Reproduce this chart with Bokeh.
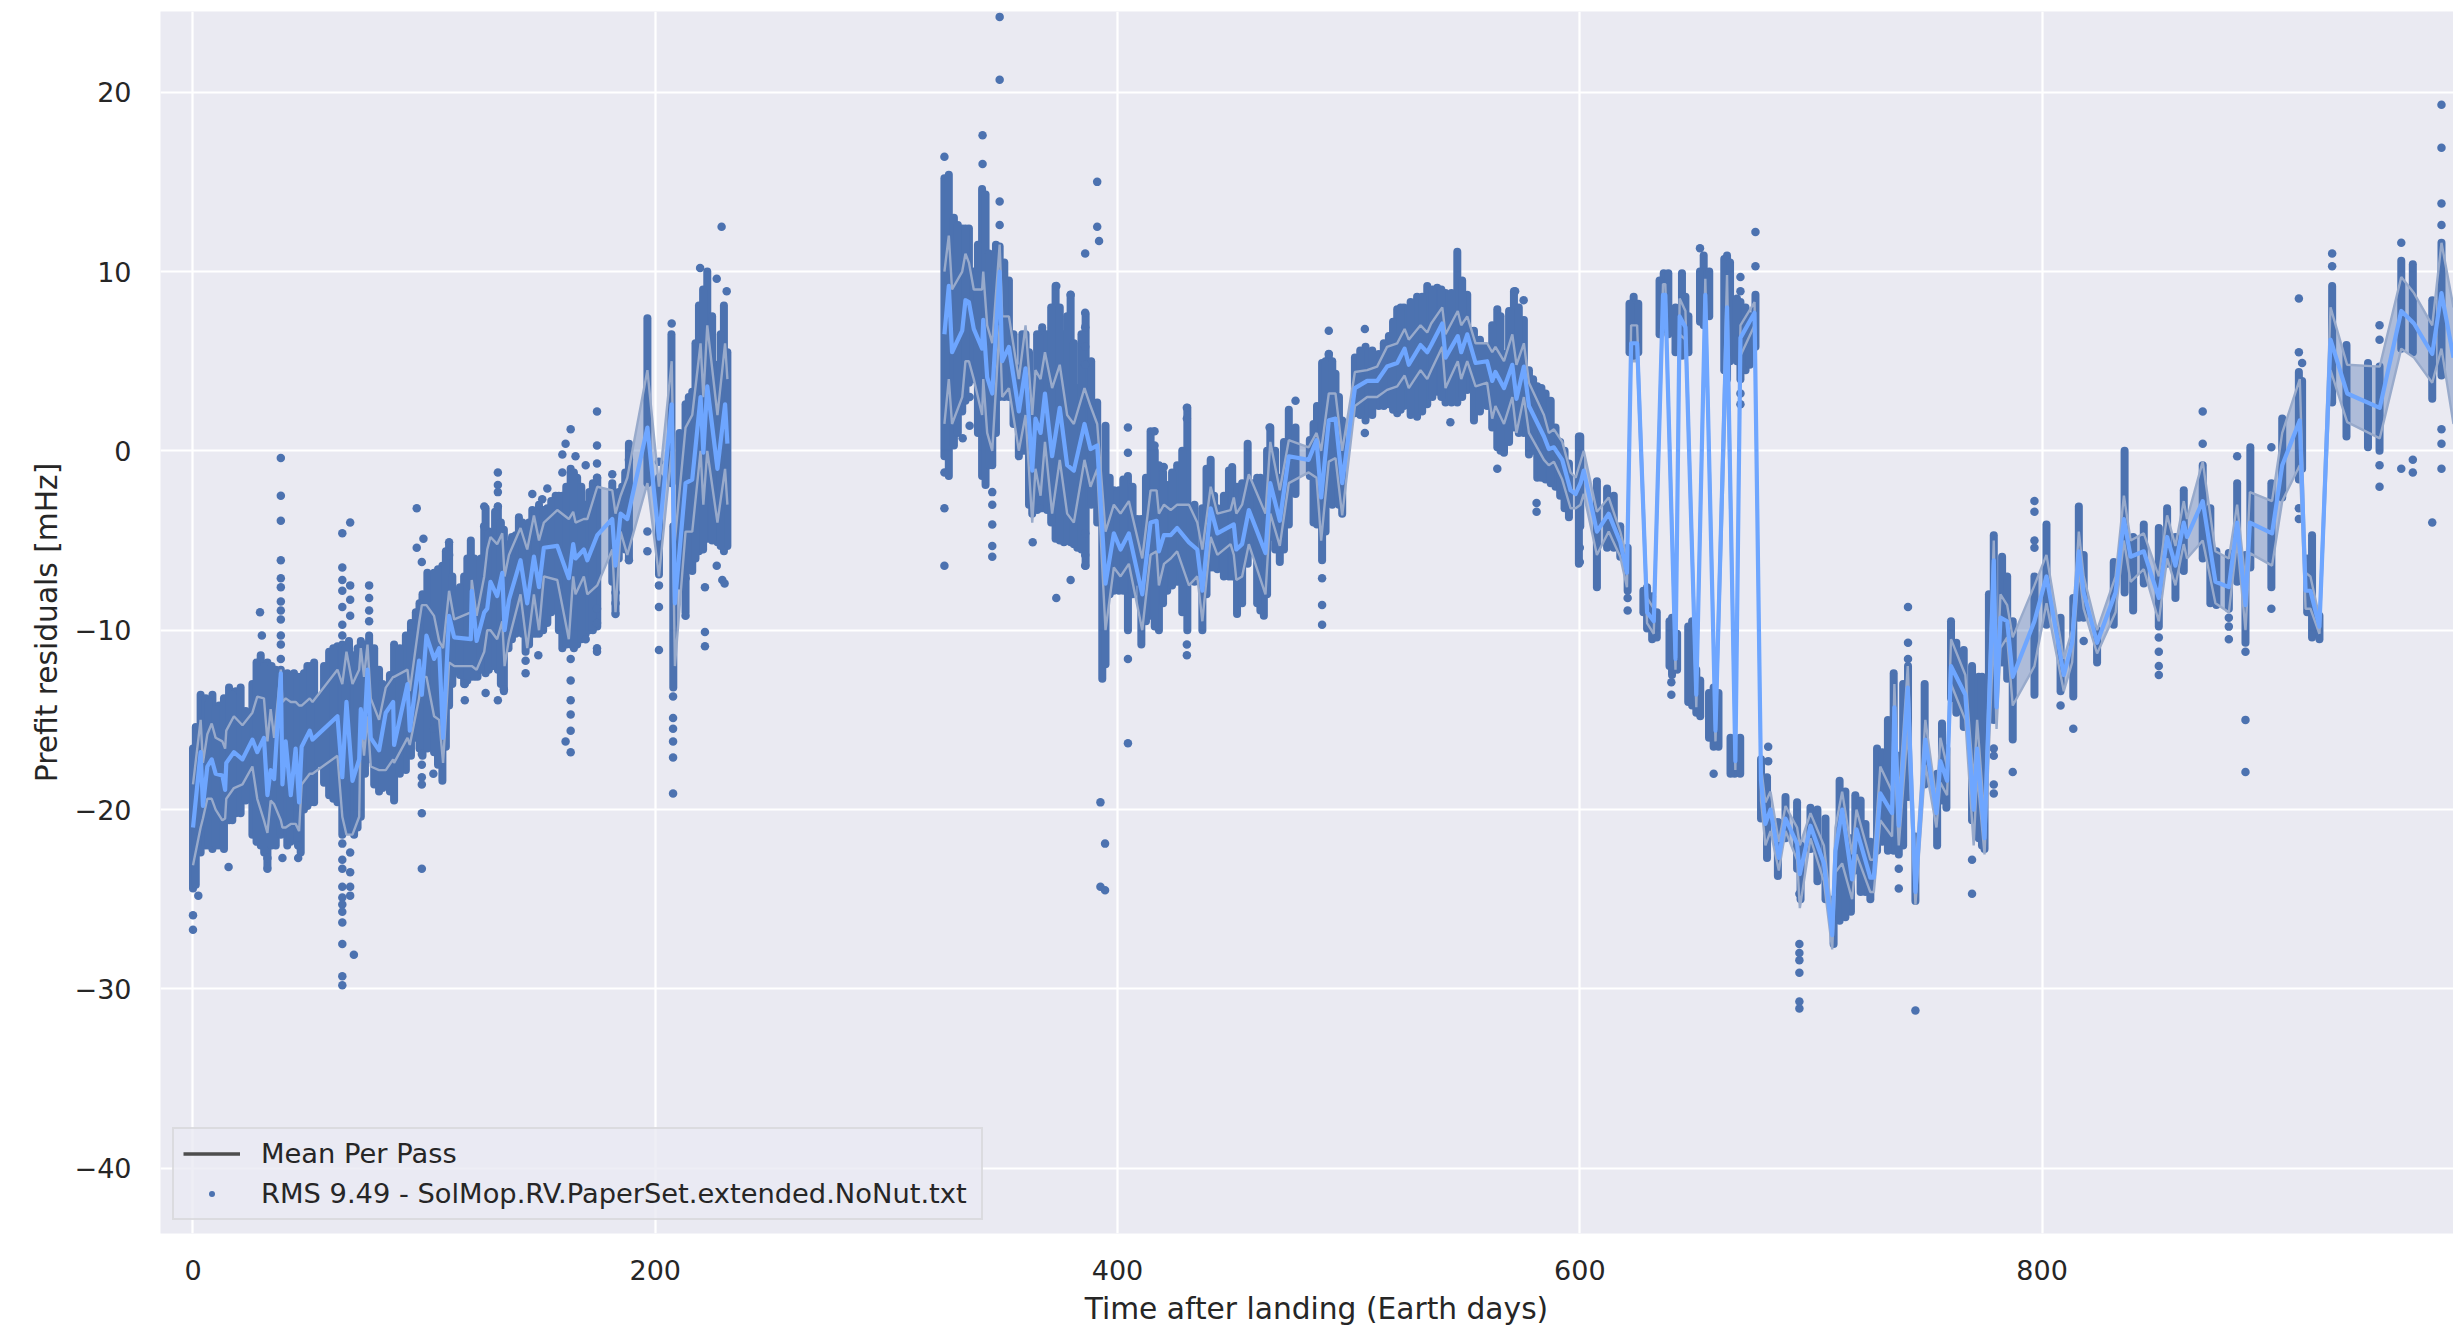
from bokeh.plotting import figure
from bokeh.models import Legend, LegendItem, FixedTicker
from bokeh.embed import file_html
from bokeh.resources import INLINE

# Each pass: time (days), lowest and highest residual of its dense run of dots (mHz)
pass_t = [0,1.2,3.3,5.5,8.4,11.3,13.4,15.6,18.5,20.6,25.7,29.3,32.2,35.8,38,40.8,43.7,46.6,49.5,52.4,54.5,58.9,62.5,64.6,67.5,69.7,72.6,76.2,80.5,83.4,87,92.1,96.4,99.3,101.4,104.3,107.9,110.8,113.7,117.3,120.2,123.1,126,
          126.6,129.5,131.9,134.5,139.6,141,143.9,146.8,149.7,153.3,156.9,159.8,163.4,166.2,169.9,174.9,181.4,182.8,185.7,188.6,196.6,201.6,207,207.8,213.1,216,218.9,222.5,226.9,229.7,231.2,
          325.1,327,329.2,332.8,335.7,337.8,341.4,342.9,345.8,349,353,357.3,360.2,363.1,367.4,373.2,376.8,379.7,382.6,386.2,391.2,393.4,394.8,398.4,400.6,404.5,408.5,410.3,414.3,417.9,421.5,425.8,430.2,436.7,440.3,443.2,448.2,
          449.6,451.7,453.9,456.3,461.8,463.3,466.1,470.2,474.1,477,483.2,486.3,488.5,491.4,494.3,497.2,502.7,507.3,513,517.4,521,523.9,529.6,534,538.3,541.9,547,551.3,554.2,559.9,564.3,567.2,571.5,575.8,578,581.6,585.2,589.5,595.3,599.6,
          600.2,607.4,611.8,614.7,617.5,620.7,623.3,629.1,631.3,636.3,639.9,642.1,644.2,645.7,648.6,650.4,653.6,657.9,663.7,667,669.5,671.7,676,678.4,681,685.7,689,694,695.5,699.8,706.3,
          709.8,712.4,717.3,719.2,723.6,725.7,728.6,730.8,735.8,738,742,745.2,749.2,754.6,756.7,758.6,760.6,762.9,766.1,769.7,772.6,775.1,779.1,782.7,784.9,787.3,796.7,801.9,808,813.5,815.9,818,823.8,831,835.7,
          839.4,844,850.5,854.1,857.7,861.3,869.5,872.8,875.4,880.8,884.4,888,890.1,899.2,903.9,911.1,912.5,914.7,916.8,920,925.5,931.7,941,946,955.4,960.4,968.8,972.8]
pass_lo = [-24.4,-24.2,-22.4,-22,-22.2,-22,-22.2,-20.6,-20.2,-20.2,-21.4,-22,-23.2,-22,-21.4,-22,-21.4,-22.4,-19.8,-19.6,-17.4,-19.2,-19.6,-21.4,-21.2,-21.4,-20.4,-17.2,-19,-18.6,-19.5,-17.8,-16,-17,-16.6,-16.8,-18.4,-14.2,-12.2,-13,-12.6,-12.6,-11.8,
           -12.4,-12,-12.2,-13.4,-10.2,-9.4,-11.2,-10.2,-10.2,-9.6,-8.3,-11,-10.8,-10.8,-10.2,-9.8,-7.3,-9,-5.3,-6,-1.8,-6.9,-1.8,-13.2,-9,-6.7,-5.6,-4.9,-5.1,-5.6,-5.3,
           -0.3,-1.4,0.3,2.2,3.8,4,-1.4,-1.9,-0.8,3,3,-0.3,0,-3.5,-3.2,-4.9,-5.1,-5.1,-5.4,-6.4,-4,-12.7,-11.9,-7.8,-7.8,-10,-7.3,-10.8,-9.2,-10,-7.8,-7.3,-10,-10,-6.5,-6.6,-7,
           -7,-9.1,-8.5,-6.3,-8.9,-9.2,-4.8,-6.2,-4.1,-2.4,-1.4,-4.1,-6.1,-2.9,-2,-3.5,2.1,1.7,2.5,2.6,2.1,2.5,1.9,2.6,3.3,2.7,2.7,3.4,1.7,2.5,0.2,-0.1,1.3,1,-0.2,-1.5,-1.6,-2,-3.7,-6.3,
           -4.2,-7.6,-5.4,-5.4,-5.9,-7.8,5.3,-9.9,-10.5,6.8,-12.5,-12.2,5.3,6.3,-14.2,-14.6,7,-16.5,4,-18,4,4.5,5.8,-20.5,-22.7,-23.7,-21.6,-23.3,-25,-22.2,-25,
           -27.5,-26.2,-25.7,-23.4,-24.6,-25,-22.3,-21.8,-22.3,-22.5,-19.3,-25.1,-18.6,-22,-19.5,-19.9,-13.8,-14.6,-15.4,-20.6,-21.6,-22.2,-15,-11.8,-12.7,-16.1,-13.6,-9.7,-13.4,-13.7,-9.3,-9.3,-11.8,-9.7,-7.9,
           -8.9,-7.4,-9.8,-6.3,-8.2,-6.7,-6,-8.5,-8.6,-8.8,-7.3,-10.7,-6.5,-7.6,-2.6,-1.6,-1,-9,-10.4,-10.5,2.7,0.8,0.2,0,5.7,5.5,2.9,4.2]
pass_hi = [-16.6,-15.4,-13.6,-13.8,-13.6,-14.2,-13.8,-13.2,-13.4,-13.2,-13,-11.4,-11.8,-12.2,-12.2,-12.4,-12.4,-12.6,-12,-11.8,-13.8,-11.2,-10.9,-10.8,-10.6,-11.4,-10.6,-10.3,-12.2,-13.4,-10.8,-10.3,-9,-8,-6.8,-6.8,-6.4,-5.2,-8.2,-7,-5,-7.2,-4.2,
           -3.2,-4.9,-3.1,-4.4,-4.7,-3.7,-4.4,-3.3,-3,-3.2,-2.5,-2.5,-1,-1.5,-3,-1.5,-1.8,-4.5,-2,0.4,7.4,-1.5,6.5,-4.2,2.6,3.3,8.1,10,4.8,8.1,5.5,
           15.2,15.4,13,12.4,12.4,10,14.6,14.3,10.8,11.4,9.5,4.6,6.5,4,6.9,9.2,6.5,8.7,3.5,7.6,2.7,-1.9,1.4,-2.2,-2.2,-1.4,-3.8,-3.8,1.1,-0.8,-1.9,-0.8,2.4,-3.2,-0.5,-3.2,-1.1,
           -0.9,-2,-1.8,0.4,-1.5,-2.6,1.3,-1.5,2.3,1.3,0.6,2.5,4.9,5.4,4.3,1.7,5.2,5.8,5.4,6.4,7.9,8,8.6,9.2,9.1,8.8,11.1,8.7,6.7,5.8,7.9,5.4,8.9,7.3,4.5,3.6,3.2,1.3,-0.7,0.8,
           0.8,-1.7,-2.1,-2.5,-4.2,-5.4,8.6,-7.6,-8.1,9.9,-9.3,-10.2,9.9,8.6,-9.5,-12.2,10.9,-13.2,10.9,-16.2,8.3,8,8.7,-17.2,-18.2,-20.7,-19.3,-19.6,-22,-19.9,-20.5,
           -25,-18.4,-21.6,-19.2,-20.8,-21.8,-16.6,-16.8,-12.4,-17,-12,-21.5,-13,-18,-15.2,-16.6,-9.5,-10.7,-11.1,-12,-12.6,-12.7,-4.7,-5.9,-7,-9.5,-7,-4.1,-9.3,-8.2,-3.1,-5.8,-10,-6.2,0,
           -4.8,-4.1,-4.3,-3.2,-4.8,-2.2,-0.8,-3.2,-5.6,-5.7,-1.8,-5.8,0.2,-1.8,1.8,4.4,3.9,-6,-4.7,-9.2,9.2,5.9,4.9,4.7,10.6,10.4,8.4,11.6]

# Further passes in the dense stretches and the day 620-680 clusters
more_t = [6.9,9.9,17,22.8,27.5,30.8,34,42.2,45.2,48,51,56.7,60.7,66,71.2,74.4,78.4,82,85.2,89.5,94.3,98,106,109.4,112.2,115.5,118.7,121.7,124.6,
          128,130.7,133.2,136.5,138,142.5,145.4,148.2,151.5,155,158.3,161.5,164.8,168,171.5,173,184.2,187,210.5,214.5,217.4,220.7,224.6,228.3,
          330.9,334.2,339.6,344.4,347.4,351,355,358.8,361.7,365.2,369.5,371.3,375,378.2,381.1,384.4,388.6,396.6,402.5,406.5,412.3,416.1,419.7,423.6,428,433.3,438.5,441.8,446,
          458.9,460.4,464.7,468.2,472,484.8,490,492.9,495.8,505,510.2,515.2,519.2,522.5,526.8,531.8,536.2,540.1,544.5,549.1,556.8,562.1,565.7,569.4,573.6,579.8,583.4,587.4,591.5,593.4,
          621.5,625.3,627.5,633.3,634.5,638.3,638.8,641.4,646.9,647,652,652.1,655.9,656,660,662.5,665,665.2,668,669.4,673.5,
          702.8,714.9,721.5,733.3,739.9,774,777]
more_lo = [-22,-22,-20.6,-19.5,-21.8,-22.4,-22,-21.8,-21.8,-20,-19.6,-18.5,-19.4,-21,-21,-18,-18.6,-18.8,-19,-18,-17,-16.6,-17.5,-16.5,-13,-12.5,-12.8,-12.6,-12.2,
           -12.2,-12,-13,-11,-10.5,-10.2,-10.8,-10.2,-10,-9,-10,-10.8,-11,-10.5,-10,-10,-6,-5.5,-7.5,-6.6,-6,-5.5,-5,-5.3,
           1,2.8,1,-0.8,1,3,1.5,0,-3,-3.3,-3.3,-4,-5,-5,-5.2,-5.5,-3,-8,-7.8,-8,-9.5,-9.8,-8.5,-7.5,-9,-7.3,-8,-6.5,-7,
           -5.7,-8.5,-8,-5.5,-5.5,-4,-4.5,-3,-3,2,2,2.5,2.3,2.3,2,2.2,3,3,2.7,3,2.2,1.3,0,0.5,1,0,-1.5,-1.8,-2.5,-3.2,
           5.5,5.5,-9,-10.4,6.5,6.5,-12,5.5,-14,5.5,7.2,-14.8,-16,7.5,-16.5,4.5,5,-18,5,-18,4.8,
           -24,-26,-24.6,-22.3,-22,-22,-15]
more_hi = [-14,-14.4,-13.6,-14.5,-11.8,-12,-12,-12.6,-12.6,-12.4,-12,-12,-11,-11,-11,-10.8,-11,-13,-12.5,-11,-9.6,-8.5,-6.6,-5.6,-7,-7.6,-6,-6,-6,
           -4.5,-3.4,-4,-5.2,-4.8,-4,-4,-3.4,-3.3,-2.8,-2.5,-2,-1.2,-2,-2.3,-1.8,-2.3,-1.2,1,3,6,9,7.5,6.5,
           12.6,12.4,11.5,11,11.5,10.5,6.5,6.5,5.5,6.5,6.5,8,8,7.5,6,6.5,5,-1.5,-1.6,-2,-1.5,0,-1.2,-1.2,0,-3,-1,-2.5,-2.5,
           -1.8,-1.5,0,0,0.5,1.5,5,5,3,5.6,5.6,6,7.2,8,8.3,8.6,9,9,8.8,9.5,6.2,7,7.5,7.8,8,4,3.5,2.8,0.5,0,
           8.2,8.2,-7.8,-9,9.5,9.9,-9.5,8,-9.8,7.5,10,-12.8,-13.5,10,-13.5,10.7,10.5,-16,8.5,-16,7.5,
           -20,-19,-19.5,-15,-13,-12.6,-8]

# Isolated dots read one by one
dot_t = [38,38,38,38,38,38,38,38,38,38,38,38,29,29.8,0,0,2.3,15.4,64.6,64.6,64.6,64.6,64.6,64.6,64.6,64.6,64.6,64.6,64.6,64.6,64.6,64.6,64.6,64.6,64.6,64.6,68,68,68,68,68,68,68,68,69.6,76.2,76.2,76.2,76.2,32.2,32.2,38.7,45.5,45.5,96.8,96.8,99.7,99,99,99,99,99,99,99,104,104,110.8,110.8,117.6,117.6,126,126,
         126.6,131.9,131.9,131.9,131.9,131.9,134.5,143.9,143.9,149.4,146.8,151.1,153.3,163.4,161.2,159.8,165.5,159.8,163.4,163.4,163.4,163.4,163.4,163.4,161.2,174.8,174.8,174.8,174.8,174.8,174.8,174.8,174.8,169.9,169.9,181.4,182.8,182.8,182.8,188.6,188.6,196.6,196.6,201.6,201.6,201.6,201.6,207.1,207.7,207.7,207.7,207.7,207.7,207.7,213.1,213.1,221.5,221.5,221.5,226.6,229,230,228.7,219.4,226.6,230.9,
         325.1,325.1,325.1,325.1,341.6,341.6,345.8,345.8,345.8,345.8,345.8,349,349,349,349,391.2,391.2,392,386,404.5,404.5,404.5,404.5,392.6,394.6,392.6,394.6,386,386,386,386,386,386,386,373.5,373.5,379.7,379.7,363.3,366.3,430,430,430,430,416,416,420,336,336,333,
         491.4,491.4,507,507,488.5,488.5,488.5,477,465.8,544,564.3,581.3,581.3,572,575.7,
         600,600,620.7,620.7,639.6,639.6,657.9,652,676,676,669.5,669.5,669.5,669.5,681.5,681.5,695,695,695,695,695,695,695,
         742,742,742,745.2,738,738,769.7,769.7,779.1,779.1,779.1,779.1,787.3,796.7,796.7,796.7,796.7,808,813.5,818,
         850.5,850.5,850.5,850.5,869.5,869.5,884.4,888,888,888,880.8,880.8,880.8,899.2,899.2,911.1,911.1,911.1,911.1,912.5,925.5,925.5,946,946,946,946,955.4,955.4,960.4,960.4,968.8,972.8,972.8,972.8,972.8,972.8,972.8,972.8]
dot_y = [-0.4,-2.5,-3.9,-6.1,-7.1,-7.6,-8.4,-8.9,-9.4,-10.3,-10.8,-11.6,-9,-10.3,-25.9,-26.7,-24.8,-23.2,-4.6,-6.5,-7.2,-7.8,-8.7,-9.7,-10.3,-22.8,-23.3,-24.3,-24.9,-25.3,-25.7,-26.3,-27.5,-29.3,-29.8,-21.9,-4,-7.5,-8.3,-9.2,-22.4,-23.5,-24.3,-24.8,-28.1,-7.5,-8.2,-8.9,-9.5,-22.7,-23.3,-22.7,-22,-22.7,-3.2,-5.4,-4.9,-6.2,-17.5,-18.2,-18.6,-20.2,-23.3,-16.9,-18,-15.5,-5.1,-5.8,-13,-13.9,-3.1,-4.2,
         -13.5,-1.2,-1.9,-2.3,-3.1,-13.9,-13.3,-11.7,-12.4,-11.4,-2.4,-2.7,-2.1,1.2,0.4,-0.2,-0.3,-1.2,-11.6,-12.8,-13.9,-14.7,-15.6,-16.8,-16.2,2.2,0.3,-0.7,-1.5,-11,-11.2,-8.8,-9.6,-0.8,-10.5,-1.3,-7.9,-8.5,-9.1,-0.5,-6.1,-4.5,-5.6,-0.6,-7.5,-8.7,-11.1,7.1,-13.7,-14.9,-15.5,-16.2,-17.1,-19.1,-7.1,-9.2,-7.6,-10.1,-10.9,-6.4,-7.2,-7.4,12.5,10.2,9.6,8.9,
         16.4,-1.2,-3.2,-6.4,17.6,16,-2.3,-3,-4.1,-5.3,-5.9,24.2,20.7,13.9,12.6,15,12.5,11.7,11,1.3,-0.1,-11.6,-16.3,-19.6,-21.9,-24.3,-24.5,7.7,6.9,5.8,4.8,-4.6,-5.8,-6.4,9.2,-8.2,8.7,-7.2,-5.1,-3.2,2.4,1.8,-10.8,-11.4,1.1,0.3,-0.9,1.4,3,0.7,
         6.7,5.4,6.8,1,-7.1,-8.6,-9.7,2.8,1.3,1.6,-1,-2.9,-3.4,8.9,8.4,
         -5.4,-6.2,-8.2,-8.9,-12.9,-13.6,-18,11.3,12.2,10.3,9.7,8.9,3.2,2.6,-16.5,-17.3,-24.7,-27.5,-28,-28.4,-29.1,-30.7,-31.1,
         -8.7,-10.7,-11.6,-31.2,-23.3,-24.4,-22.8,-24.7,-16.6,-18.6,-19.1,-17,-17.9,-2.8,-3.4,-5,-5.4,-14.2,-15.5,-10.6,
         -10.4,-11.2,-12,-12.5,2.2,0.4,-0.3,-11.2,-15,-17.9,-9.3,-9.8,-10.5,0.2,-8.8,8.5,5.5,-3.2,-3.8,4.9,11,10.3,7,6.2,-0.8,-2,11.6,-1,-0.5,-1.2,-4,19.3,16.9,13.8,12.6,1.2,0.4,-1]

# Mean per pass with the upper and lower edge of its shaded band
mean_t = [0,3.3,4.3,6.2,8.1,9.8,12.7,13.9,14.4,17.7,21.4,25.7,27.8,30.7,32.2,33.6,35.1,38,38.7,40.1,42.3,44.4,45.9,47,50.5,51.7,62.5,64.6,66.4,69,71.9,72.6,74,75.5,76.9,80.5,83.4,86.6,87,92.8,93.8,97.8,99,101,104.3,106.5,108.2,110.8,113,120.2,120.6,122.7,126,
          127.3,128.7,131.6,133.8,134.8,136.7,141.7,144.6,147.5,149.7,151.8,157.6,162.6,164.5,165.5,169.1,170.6,174.9,181.4,182.8,185,187.9,196.6,201.6,207.1,208.5,213.1,216,219.6,220.8,222.5,226.9,230.2,231.2,
          325.1,327,328.4,332.8,334.2,335.7,337.8,341.4,341.9,343.6,345.8,349,350.1,353,357.3,360.2,363.1,364.5,366.7,368.6,371.7,375,378.2,381.1,385.7,388.3,391.2,394.8,398.4,401.3,404.9,410.7,414.3,416.9,417.9,420.1,423,425.8,430.9,434.5,436.7,440.3,443.2,448.9,
          450.3,451.4,453.9,456.8,464,466.1,470.2,474.1,482.7,486.1,488.1,491.4,494.3,497.2,502.7,508,512.3,516.6,521,524.2,526,531.1,534,535.7,540.5,541.9,547.2,548.7,551.3,554.9,559.9,562.1,563.5,567.2,570.8,572.6,575.8,578,584.5,586.6,588.8,592.4,596,598.2,600.3,
          601.7,607.4,612.5,617.5,620.4,622.2,624.8,629.1,632,636,637,641.4,643.2,645.7,650.4,654.3,658.7,663.7,667.3,669.5,675.6,678.4,680.3,682.5,686.1,689,694,695.2,699.8,705.6,709.2,710.6,713.5,717.8,719.7,725.7,727.2,730,
          735.1,736.1,738,741.9,745.2,749.5,754.3,756,758.9,760.6,766.8,770.4,771.9,775.1,779.1,780.3,782,784.9,787.3,796.7,801.9,809.4,813,815.9,818,823.8,831.8,835.4,838.3,
          844,850.5,854.1,857.7,861.3,862.7,869.5,875,880.8,884.4,888,889.9,899.5,903.9,911.5,914,916.1,920,924.8,932,946.1,955.4,960.9,968.8,972.8,978]
mean_val = [-21,-16.8,-19.8,-17.6,-17.2,-18,-18.1,-18.9,-17.4,-16.8,-17.2,-16.1,-16.8,-16,-19.2,-17.8,-18.3,-12.4,-18.6,-16.2,-19.2,-16.6,-19.6,-16.5,-15.6,-16.1,-14.8,-18.2,-14,-18.4,-17.2,-14.4,-16,-12.2,-16,-16.7,-14.6,-14,-16.4,-13,-15.6,-11.7,-13.6,-10.3,-11.6,-11,-16,-9.2,-10.4,-10.5,-7.8,-10.6,-9,
            -8.8,-7.3,-8.1,-6.8,-10,-8.3,-6.1,-8.5,-5.9,-7.6,-5.4,-5.3,-7.1,-5.2,-6,-5.5,-6.1,-4.7,-3.8,-6.4,-3.5,-3.8,1.3,-4.9,2.6,-8.5,-1.8,-1.6,3,-0.1,3.6,-1,2.6,0.4,
            6.5,9.2,5.5,6.7,8.4,8.3,6.8,5.7,7.3,4.1,3.2,10,5,5.8,2.2,4.6,-1.1,1.8,1,3.2,-0.3,2.4,-0.8,-1.1,1.5,0.1,0.3,-7.4,-4.6,-5.5,-4.6,-8,-4,-3.9,-5.6,-4.7,-4.7,-4.3,-5.1,-5.5,-7.8,-3.2,-4.6,-4.2,
            -4.1,-5.5,-5.2,-3.3,-5.7,-1.8,-3.9,-0.3,-0.5,0.6,-2.6,1.7,1.8,-1.8,3.5,3.9,3.9,4.7,4.9,5.7,4.8,5.9,5.5,5.9,7.1,5.2,6.4,5.5,6.5,4.9,5,3.9,4.4,3.5,4.8,2.9,4.7,2.5,0.8,0.1,0.2,-0.5,-2.2,-2.4,-1.8,
            -1.1,-4.5,-3.5,-5.1,-6.8,6,6,-9,-9.5,8.7,8.7,-11.6,7.5,6.9,-13.6,8.7,-15.6,8,-17.3,6.3,7.7,-18.4,-20.8,-20,-22.7,-20.5,-21.9,-23.6,-20.9,-23,-27,-22.3,-20,-23.9,-21.1,-23.8,-23.8,-19.1,
            -20.2,-14.3,-20.9,-13.2,-24.6,-16.1,-20.2,-17.3,-18.4,-12,-13.6,-20,-16.6,-21.6,-6.1,-14.3,-9.3,-9.5,-12.6,-9.5,-7,-12.5,-10.7,-5.6,-7.9,-10.7,-7.9,-3.8,-5.9,
            -5.6,-8.2,-4.8,-6.4,-4,-4.8,-2.8,-7.3,-7.6,-4,-8.6,-4,-4.6,-0.8,1.7,-7.8,-7.8,-9.8,6.2,3.2,2.4,7.8,7.1,5.4,8.8,5.2]
band_up = [-18.6,-15,-17.4,-15.8,-15.2,-16,-16.2,-16.6,-15.6,-14.8,-15.3,-14.6,-13.7,-13.8,-16.2,-14.4,-16,-12.2,-14,-13.8,-14,-14,-14.2,-14.2,-13.8,-14,-12.2,-13,-11.2,-13,-12.2,-11,-12.6,-10.8,-13.8,-15,-13.2,-12.6,-12.6,-12.2,-13.4,-9.6,-8.6,-8.6,-9.2,-10.6,-11,-7.8,-9.4,-9,-7.2,-9.2,-7,
           -5.5,-4.8,-5.2,-4.6,-7,-5.8,-4.3,-5.5,-3.6,-5,-4,-3.3,-3.8,-3.4,-4,-3.8,-3.8,-2,-2.2,-3.5,-2.5,-1.5,4.5,-2,5,-5,1.3,2,6,3,7,2,6,4,
           10,12,9,10,11,10.5,9,9,10,7,6,11.5,7.5,7.5,4,7,2,4.5,4,5.5,3.5,4.8,2,1.5,3.5,2.5,1.5,-4.5,-3,-3.5,-2.8,-6,-2.2,-2.2,-3.5,-3,-3.3,-3,-3,-4,-5.5,-2,-3.5,-3.3,
           -2.6,-3.5,-3,-1.3,-3.5,0.5,-2.2,0.6,0.2,1,0,3.2,3.2,0,4.4,4.5,4.7,5.8,6,6.8,6.2,7,6.6,7.1,8,6.5,7.8,7,7.5,6,6,5.5,5.8,5,6.5,4.8,6,3.8,2,1,1.2,0.5,-1.2,-1.5,-0.6,
           0,-3.4,-2.6,-4.5,-6,7,7,-8.2,-8.8,9.3,9.3,-10.6,8.5,7.8,-12.8,9.6,-14.6,9.8,-16.6,7,8.3,-17.6,-19.6,-19,-21.8,-19.8,-21,-22,-20.2,-22,-26,-21,-19,-22.5,-20,-22.8,-22.8,-17.6,
           -19,-13,-19.5,-12,-23.5,-15,-19.5,-16,-17.6,-10.5,-12.5,-18.5,-15,-20.5,-5,-13,-8,-8.6,-10.4,-7.5,-5.8,-11.6,-10,-4.5,-7,-10,-7,-2.5,-5,
           -4.6,-7,-3.6,-5.3,-2.8,-3.8,-0.6,-5.6,-6,-3,-7.3,-2.3,-2.8,1,4,-6.8,-7,-9.3,8,4.8,4.7,9.7,8.8,7,11.6,8]
band_lo = [-23.1,-21,-20.5,-19.4,-19.4,-20,-20.6,-20.5,-19.4,-18.8,-18.6,-17.6,-19.4,-20.6,-21.3,-19.5,-19.7,-20.6,-21,-21,-20.8,-20.8,-21.2,-18.6,-18,-18,-17,-20.4,-21.4,-21.4,-20.4,-15,-17,-14.8,-17.6,-17.8,-17.8,-17.2,-17.4,-16,-16.4,-13.8,-12.6,-12.6,-14.8,-15,-17.4,-11.8,-12,-12,-12,-12.2,-11.2,
           -10,-10,-10.5,-9.5,-12,-10.5,-8,-11,-8,-10,-7,-7.2,-10.5,-7,-8,-7,-8,-7.5,-5.5,-9,-4.5,-5.8,-1.8,-7,0,-12,-4.5,-4.5,0,-3,0,-4,-1,-3,
           1.5,4,1.5,3,5,5,4,2,4,1,0,7,3,3.5,0,2,-4,-1,-2.5,0.5,-3.5,-0.5,-3.5,-4,-0.5,-2,-1,-10,-6.5,-7,-6.3,-10,-5.8,-5.6,-7.5,-6.3,-6,-5.6,-7.5,-7,-9.5,-4.8,-5.8,-5.2,
           -5.8,-7.2,-7,-5.2,-8,-3.5,-5.3,-1.8,-1.2,-1.5,-5,-0.6,-0.4,-3.6,2.5,3,3,3.4,3.6,4.2,3.5,4.5,4,4.5,5.8,3.5,5,4,5,3.6,3.8,1.8,2.5,1.5,3,1,3,1,-0.5,-0.8,-0.6,-1.6,-3.2,-3.2,-3,
           -2.4,-5.8,-4.5,-5.9,-7.6,5,5,-9.6,-10.2,8,8,-12.2,6.5,6.2,-14.3,8,-16.2,5.5,-17.8,5.3,7,-19.5,-22,-21.2,-23.4,-21.2,-22.8,-25.5,-21.6,-24,-27.8,-23.5,-23,-25,-22.5,-24.6,-24.6,-20.6,
           -21.5,-17,-22,-15.5,-25.3,-17.5,-21,-18.5,-19.2,-13,-15,-22,-18,-22.5,-10,-15.5,-11,-10.4,-14.2,-12,-8.5,-13.4,-11.8,-6.6,-8.8,-11.3,-9,-5,-7.3,
           -6.6,-9.5,-6,-7.5,-5.2,-6,-5,-8.5,-9,-5,-10,-5.7,-6.4,-2.8,-0.8,-8.8,-8.8,-10.2,4.5,1.6,0.7,5.7,5.2,3.8,5.7,1.5]

first_after_gap = 325.1   # no data between about day 232 and this day

x_ticks = [0, 200, 400, 600, 800]
y_ticks = [-40, -30, -20, -10, 0, 10, 20]
y_labels = ["\u221240", "\u221230", "\u221220", "\u221210", "0", "10", "20"]
x_title = "\u00a0\u00a0Time after landing (Earth days)"
y_title = "Prefit residuals [mHz]"
mean_label = "Mean Per Pass"
dots_label = "RMS 9.49 - SolMop.RV.PaperSet.extended.NoNut.txt"

FONT = "DejaVu Sans"
DOT = "#4c72b0"

p = figure(width=2453, height=1332, output_backend="svg", toolbar_location=None,
           x_range=(-14.06, 978), y_range=(-43.64, 24.5),
           min_border_left=160, min_border_right=0, min_border_top=11, min_border_bottom=99,
           background_fill_color="#eaeaf2", border_fill_color="white", outline_line_color=None)

p.xaxis.ticker = FixedTicker(ticks=x_ticks)
p.yaxis.ticker = FixedTicker(ticks=y_ticks)
p.yaxis.major_label_overrides = dict(zip(y_ticks, y_labels))
for ax, title in ((p.xaxis, x_title), (p.yaxis, y_title)):
    ax.axis_label = title
    ax.axis_label_text_font = FONT
    ax.axis_label_text_font_size = "29.7px"
    ax.axis_label_text_font_style = "normal"
    ax.axis_label_text_color = "#262626"
    ax.major_label_text_font = FONT
    ax.major_label_text_font_size = "27px"
    ax.major_label_text_color = "#262626"
    ax.axis_line_color = None
    ax.major_tick_line_color = None
    ax.minor_tick_line_color = None
p.xaxis.major_label_standoff = 20
p.yaxis.major_label_standoff = 23
p.xaxis.axis_label_standoff = 8
p.yaxis.axis_label_standoff = 8
p.grid.grid_line_color = "white"
p.grid.grid_line_width = 2.2

gap = mean_t.index(first_after_gap)
for a, b in ((0, gap), (gap, len(mean_t))):
    p.varea(x=mean_t[a:b], y1=band_lo[a:b], y2=band_up[a:b], fill_color=DOT, fill_alpha=0.38)
p.segment(x0=pass_t, x1=pass_t, y0=pass_lo, y1=pass_hi, line_color=DOT, line_width=8, line_cap="round")
p.segment(x0=more_t, x1=more_t, y0=more_lo, y1=more_hi, line_color=DOT, line_width=8, line_cap="round")
dots = p.scatter(x=dot_t, y=dot_y, size=8.5, color=DOT, line_width=0)
for a, b in ((0, gap), (gap, len(mean_t))):
    p.line(x=mean_t[a:b], y=band_up[a:b], line_color="#98aacb", line_width=2.4)
    p.line(x=mean_t[a:b], y=band_lo[a:b], line_color="#98aacb", line_width=2.4)
    p.line(x=mean_t[a:b], y=mean_val[a:b], line_color="#6ea6ff", line_width=4.2, line_join="round")

key_line = p.line(x=mean_t[:1], y=mean_val[:1], line_color="#4d4d4d", line_width=3.5)
legend = Legend(items=[LegendItem(label=mean_label, renderers=[key_line]),
                       LegendItem(label=dots_label, renderers=[dots])],
                location=(12, 13), orientation="vertical",
                label_text_font=FONT, label_text_font_size="27.3px", label_text_color="#262626",
                background_fill_color="#eaeaf2", background_fill_alpha=0.8,
                border_line_color="#cccccc", border_line_width=2,
                glyph_width=57, glyph_height=15, label_height=29, label_width=711, label_standoff=21,
                padding=9, margin=0, spacing=9)
p.add_layout(legend, "center")

open("out.html", "w").write(file_html(p, INLINE))
